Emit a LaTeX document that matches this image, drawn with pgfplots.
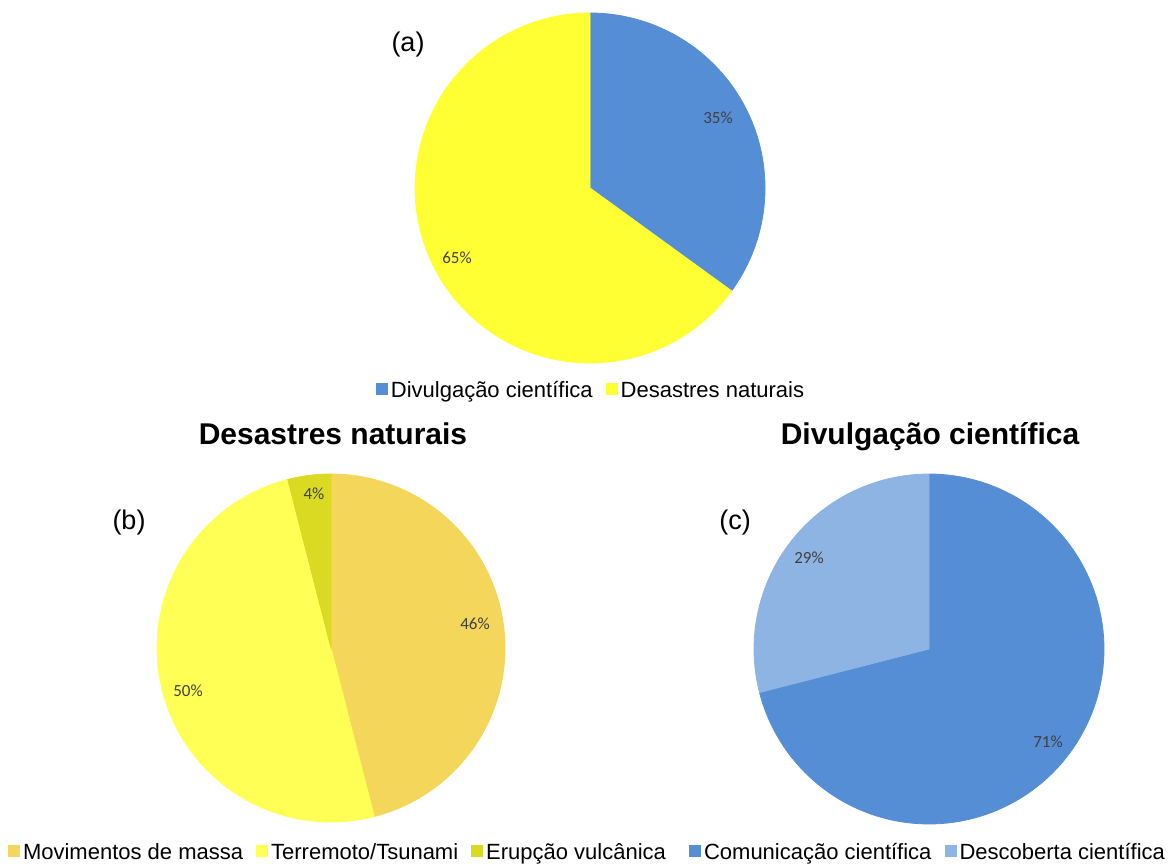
\documentclass[border=0pt]{standalone}
\usepackage{pgfplots}
\pgfplotsset{compat=1.18}
\usepackage{fontspec}
\setmainfont{Liberation Sans}
\newfontfamily\carlito{Carlito}
\definecolor{cblue}{HTML}{558ED5}
\definecolor{clblue}{HTML}{8EB4E3}
\definecolor{cyel}{HTML}{FFFF33}
\definecolor{cmov}{HTML}{F4D65A}
\definecolor{cter}{HTML}{FFFF55}
\definecolor{cerup}{HTML}{DADA22}
\definecolor{ctxt}{HTML}{404040}
\newcommand\sq[1]{\textcolor{#1}{\rule[0.9pt]{6pt}{6pt}}\hspace{1.5pt}}
\newcommand\pct[1]{{\carlito\fontsize{8.5}{10}\selectfont\color{ctxt}#1}}
\begin{document}
\begin{tikzpicture}
\begin{axis}[
  scale only axis, width=585.5pt, height=431.5pt,
  xmin=0, xmax=1171, ymin=0, ymax=863,
  axis lines=none, clip=false,
  samples=120,
]
% ---- (a): Divulgacao cientifica 35, Desastres naturais 65 ; center (590,675) r=175
\addplot[fill=cblue, draw=cblue, domain={90-35*3.6}:90] ({590+175*cos(x)},{675+175*sin(x)}) -- (axis cs:590,675) -- cycle;
\addplot[fill=cyel, draw=cyel, domain={90-100*3.6}:{90-35*3.6}] ({590+175*cos(x)},{675+175*sin(x)}) -- (axis cs:590,675) -- cycle;
% ---- (b): Movimentos 46, Terremoto 50, Erupcao 4 ; center (331,215) r=174
\addplot[fill=cmov, draw=cmov, domain={90-46*3.6}:90] ({331+174*cos(x)},{215+174*sin(x)}) -- (axis cs:331,215) -- cycle;
\addplot[fill=cter, draw=cter, domain={90-96*3.6}:{90-46*3.6}] ({331+174*cos(x)},{215+174*sin(x)}) -- (axis cs:331,215) -- cycle;
\addplot[fill=cerup, draw=cerup, domain={90-100*3.6}:{90-96*3.6}] ({331+174*cos(x)},{215+174*sin(x)}) -- (axis cs:331,215) -- cycle;
% ---- (c): Comunicacao 71, Descoberta 29 ; center (929,214) r=175
\addplot[fill=cblue, draw=cblue, domain={90-71*3.6}:90] ({929+175*cos(x)},{214+175*sin(x)}) -- (axis cs:929,214) -- cycle;
\addplot[fill=clblue, draw=clblue, domain={90-100*3.6}:{90-71*3.6}] ({929+175*cos(x)},{214+175*sin(x)}) -- (axis cs:929,214) -- cycle;

% percentage labels
\node at (axis cs:718,745) {\pct{35\%}};
\node at (axis cs:457,605) {\pct{65\%}};
\node at (axis cs:475,239) {\pct{46\%}};
\node at (axis cs:188,172) {\pct{50\%}};
\node at (axis cs:314,369) {\pct{4\%}};
\node at (axis cs:809,305) {\pct{29\%}};
\node at (axis cs:1048,121) {\pct{71\%}};

% panel letters
\node at (axis cs:408,818) {\fontsize{13.5}{15}\selectfont (a)};
\node at (axis cs:129,340) {\fontsize{13.5}{15}\selectfont (b)};
\node at (axis cs:735,340) {\fontsize{13.5}{15}\selectfont (c)};

% titles
\node[anchor=base, inner sep=0pt] at (axis cs:333,419) {\fontsize{15}{17}\selectfont\bfseries Desastres naturais};
\node[anchor=base, inner sep=0pt] at (axis cs:930,419) {\fontsize{15}{17}\selectfont\bfseries Divulgação científica};

% legends
\node[anchor=base, inner sep=0pt] at (axis cs:590,466) {\fontsize{11}{13}\selectfont\sq{cblue}Divulgação científica\hspace{6.5pt}\sq{cyel}Desastres naturais};
\node[anchor=base, inner sep=0pt] at (axis cs:337,4) {\fontsize{11}{13}\selectfont\sq{cmov}Movimentos de massa\hspace{6.5pt}\sq{cter}Terremoto/Tsunami\hspace{6.5pt}\sq{cerup}Erupção vulcânica};
\node[anchor=base, inner sep=0pt] at (axis cs:927,4) {\fontsize{11}{13}\selectfont\sq{cblue}Comunicação científica\hspace{6.5pt}\sq{clblue}Descoberta científica};
\end{axis}
\pgfresetboundingbox
\path[use as bounding box] (current axis.south west) rectangle (current axis.north east);
\end{tikzpicture}
\end{document}
